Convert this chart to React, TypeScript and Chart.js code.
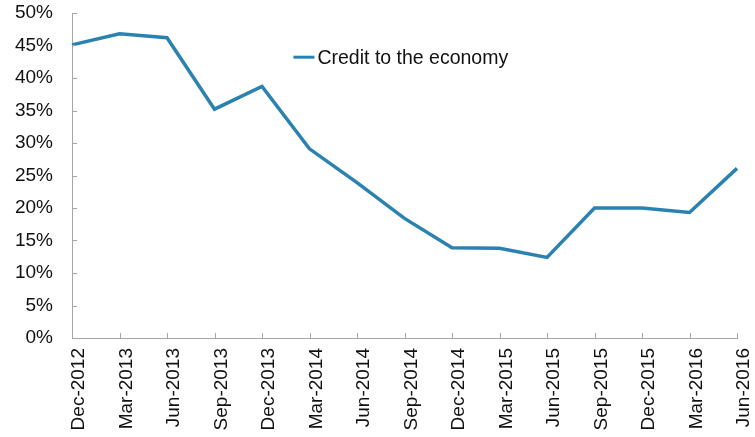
import React, { useEffect, useRef } from "react";
import { Chart, registerables } from "chart.js";

Chart.register(...registerables);

const categories = [
  "Dec-2012", "Mar-2013", "Jun-2013", "Sep-2013", "Dec-2013",
  "Mar-2014", "Jun-2014", "Sep-2014", "Dec-2014", "Mar-2015",
  "Jun-2015", "Sep-2015", "Dec-2015", "Mar-2016", "Jun-2016",
];
const creditValues = [45.1, 46.8, 46.2, 35.2, 38.7, 29.1, 23.9, 18.4, 13.9, 13.8, 12.4, 20.0, 20.0, 19.3, 26.1];
const seriesName = "Credit to the economy";
const yMin = 0;
const yMax = 50;
const yStep = 5;

const LINE_COLOR = "#2a82b1";
const AXIS_COLOR = "#a6a6a6";
const FONT = "'Liberation Sans', Arial, Helvetica, sans-serif";

const tickMarksPlugin = {
  id: "tickMarks",
  afterDraw(chart: any) {
    const { ctx, chartArea, scales } = chart;
    ctx.save();
    ctx.strokeStyle = AXIS_COLOR;
    ctx.lineWidth = 1;
    const ys = scales.y;
    ys.ticks.forEach((t: any) => {
      const py = Math.round(ys.getPixelForValue(t.value)) + 0.5;
      ctx.beginPath();
      ctx.moveTo(chartArea.left, py);
      ctx.lineTo(chartArea.left + 5, py);
      ctx.stroke();
    });
    const xs = scales.x;
    categories.forEach((_, i) => {
      if (i === 0) return;
      const px = Math.round(xs.getPixelForValue(i)) + 0.5;
      ctx.beginPath();
      ctx.moveTo(px, chartArea.bottom);
      ctx.lineTo(px, chartArea.bottom - 5);
      ctx.stroke();
    });
    ctx.restore();
  },
};

const legendPlugin = {
  id: "innerLegend",
  afterDraw(chart: any) {
    const { ctx, chartArea } = chart;
    const w = chartArea.right - chartArea.left;
    const h = chartArea.bottom - chartArea.top;
    const x0 = chartArea.left + w * 0.333;
    const y0 = chartArea.top + h * 0.136;
    ctx.save();
    ctx.strokeStyle = LINE_COLOR;
    ctx.lineWidth = 3;
    ctx.beginPath();
    ctx.moveTo(x0, y0);
    ctx.lineTo(x0 + 21, y0);
    ctx.stroke();
    ctx.fillStyle = "#111";
    ctx.font = `19.5px ${FONT}`;
    ctx.textBaseline = "middle";
    ctx.textAlign = "left";
    ctx.fillText(seriesName, x0 + 24, y0 + 1);
    ctx.restore();
  },
};

export default function App() {
  const canvasRef = useRef<HTMLCanvasElement | null>(null);

  useEffect(() => {
    if (!canvasRef.current) return;
    const chart = new Chart(canvasRef.current, {
      type: "line",
      data: {
        labels: categories,
        datasets: [
          {
            label: seriesName,
            data: creditValues,
            borderColor: LINE_COLOR,
            backgroundColor: LINE_COLOR,
            borderWidth: 3.5,
            pointRadius: 0,
            tension: 0,
            fill: false,
          },
        ],
      },
      options: {
        responsive: false,
        animation: false,
        layout: { padding: { top: 13, right: 18, left: 0, bottom: 0 } },
        plugins: {
          legend: { display: false },
          tooltip: { enabled: false },
        },
        scales: {
          x: {
            offset: false,
            grid: { display: false, drawTicks: false },
            border: { display: true, color: AXIS_COLOR, width: 1 },
            ticks: {
              autoSkip: false,
              minRotation: 90,
              maxRotation: 90,
              padding: 10,
              labelOffset: 7,
              color: "#111",
              font: { family: FONT, size: 19 },
            },
            afterFit(scale: any) {
              scale.height = 99;
              scale.paddingLeft = 0;
              scale.paddingRight = 0;
              scale.paddingTop = 0;
              scale.paddingBottom = 0;
            },
          },
          y: {
            min: yMin,
            max: yMax,
            grid: { display: false, drawTicks: false },
            border: { display: true, color: AXIS_COLOR, width: 1 },
            ticks: {
              stepSize: yStep,
              padding: 19,
              color: "#111",
              font: { family: FONT, size: 19 },
              callback: (v: any) => `${v}%`,
            },
            afterFit(scale: any) {
              scale.width = 72;
              scale.paddingLeft = 0;
              scale.paddingRight = 0;
              scale.paddingTop = 0;
              scale.paddingBottom = 0;
            },
          },
        },
      },
      plugins: [tickMarksPlugin, legendPlugin],
    });
    return () => chart.destroy();
  }, []);

  return (
    <div style={{ position: "absolute", left: 0, top: 0, width: 755, height: 437, background: "#fff" }}>
      <canvas ref={canvasRef} width={755} height={437} />
    </div>
  );
}
